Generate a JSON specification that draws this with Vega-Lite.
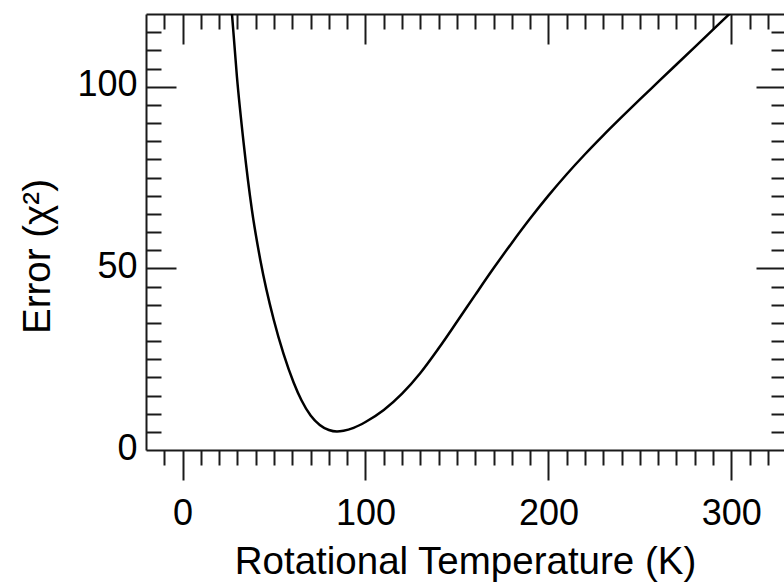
{
  "$schema": "https://vega.github.io/schema/vega-lite/v6.json",
  "autosize": "none",
  "width": 638,
  "height": 436,
  "padding": {"left": 146, "top": 14, "right": 0, "bottom": 133},
  "background": "white",
  "config": {
    "view": {"stroke": null},
    "axis": {
      "grid": false,
      "labelFont": "Liberation Sans",
      "titleFont": "Liberation Sans",
      "labelColor": "#000000",
      "titleColor": "#000000",
      "titleFontWeight": "normal",
      "tickColor": "#1a1a1a",
      "domainColor": "#1a1a1a",
      "tickWidth": 2,
      "domainWidth": 2,
      "labelFlush": false,
      "labelOverlap": false
    }
  },
  "datasets": {
    "curve": [
      {"T": 27.0, "E": 120.0},
      {"T": 29.7, "E": 102.8},
      {"T": 33.4, "E": 84.4},
      {"T": 37.9, "E": 66.1},
      {"T": 42.5, "E": 52.3},
      {"T": 49.8, "E": 35.9},
      {"T": 55.2, "E": 26.45},
      {"T": 60.7, "E": 18.6},
      {"T": 65.0, "E": 13.7},
      {"T": 70.0, "E": 9.5},
      {"T": 75.0, "E": 6.9},
      {"T": 80.0, "E": 5.5},
      {"T": 84.4, "E": 5.1},
      {"T": 88.0, "E": 5.3},
      {"T": 93.5, "E": 6.1},
      {"T": 100.0, "E": 7.7},
      {"T": 110.0, "E": 11.0},
      {"T": 120.0, "E": 15.5},
      {"T": 130.0, "E": 21.2},
      {"T": 140.0, "E": 28.0},
      {"T": 150.0, "E": 35.3},
      {"T": 160.0, "E": 42.7},
      {"T": 170.0, "E": 50.0},
      {"T": 180.0, "E": 57.0},
      {"T": 190.0, "E": 63.7},
      {"T": 200.0, "E": 70.0},
      {"T": 210.0, "E": 75.9},
      {"T": 220.0, "E": 81.4},
      {"T": 230.0, "E": 86.6},
      {"T": 240.0, "E": 91.6},
      {"T": 250.0, "E": 96.5},
      {"T": 260.0, "E": 101.3},
      {"T": 270.0, "E": 106.1},
      {"T": 280.0, "E": 110.9},
      {"T": 290.0, "E": 115.7},
      {"T": 300.0, "E": 120.5}
    ]
  },
  "data": {"name": "curve"},
  "layer": [
    {
      "mark": {"type": "line", "color": "#000000", "strokeWidth": 2.5, "interpolate": "monotone", "clip": true},
      "encoding": {
        "x": {
          "field": "T", "type": "quantitative",
          "scale": {"domain": [-20, 328.8], "nice": false, "zero": false},
          "axis": {
            "orient": "bottom", "values": [0, 100, 200, 300], "tickSize": 30,
            "labelFontSize": 36, "labelBaseline": "alphabetic", "labelPadding": 44,
            "domain": true,
            "title": "Rotational Temperature (K)", "titleFontSize": 38.5,
            "titleBaseline": "alphabetic", "titleY": 123, "titleAlign": "center"
          }
        },
        "y": {
          "field": "E", "type": "quantitative",
          "scale": {"domain": [0, 120], "nice": false, "zero": false},
          "axis": {
            "orient": "left", "values": [0, 50, 100], "ticks": false,
            "labelFontSize": 36, "labelPadding": 9, "labelBaseline": "middle", "labelOffset": -2,
            "domain": true,
            "title": "Error (χ²)", "titleFontSize": 38.5, "titleAngle": -90,
            "titleBaseline": "alphabetic", "titleAlign": "center", "titleX": -97, "titleY": 242
          }
        }
      }
    },
    {
      "mark": {"type": "line", "opacity": 0},
      "encoding": {
        "x": {
          "field": "T", "type": "quantitative",
          "scale": {"domain": [-20, 328.8], "nice": false, "zero": false},
          "axis": {
            "orient": "bottom", "tickSize": 15, "labels": false, "domain": false, "title": null,
            "values": [-10, 10, 20, 30, 40, 50, 60, 70, 80, 90, 110, 120, 130, 140, 150, 160, 170, 180, 190, 210, 220, 230, 240, 250, 260, 270, 280, 290, 310, 320]
          }
        },
        "y": {
          "field": "E", "type": "quantitative",
          "scale": {"domain": [0, 120], "nice": false, "zero": false},
          "axis": {"orient": "left", "values": [50, 100], "tickSize": -30, "labels": false, "domain": false, "title": null}
        }
      }
    },
    {
      "mark": {"type": "line", "opacity": 0},
      "encoding": {
        "x": {
          "field": "T", "type": "quantitative",
          "scale": {"domain": [-20, 328.8], "nice": false, "zero": false},
          "axis": {"orient": "top", "values": [0, 100, 200, 300], "tickSize": -30, "labels": false, "domain": true, "title": null}
        },
        "y": {
          "field": "E", "type": "quantitative",
          "scale": {"domain": [0, 120], "nice": false, "zero": false},
          "axis": {
            "orient": "left", "tickSize": -15, "labels": false, "domain": false, "title": null,
            "values": [5, 10, 15, 20, 25, 30, 35, 40, 45, 55, 60, 65, 70, 75, 80, 85, 90, 95, 105, 110, 115]
          }
        }
      }
    },
    {
      "mark": {"type": "line", "opacity": 0},
      "encoding": {
        "x": {
          "field": "T", "type": "quantitative",
          "scale": {"domain": [-20, 328.8], "nice": false, "zero": false},
          "axis": {
            "orient": "top", "tickSize": -15, "labels": false, "domain": false, "title": null,
            "values": [-10, 10, 20, 30, 40, 50, 60, 70, 80, 90, 110, 120, 130, 140, 150, 160, 170, 180, 190, 210, 220, 230, 240, 250, 260, 270, 280, 290, 310, 320]
          }
        },
        "y": {
          "field": "E", "type": "quantitative",
          "scale": {"domain": [0, 120], "nice": false, "zero": false},
          "axis": {"orient": "right", "values": [50, 100], "tickSize": -28, "labels": false, "domain": false, "title": null}
        }
      }
    },
    {
      "mark": {"type": "line", "opacity": 0},
      "encoding": {
        "x": {
          "field": "T", "type": "quantitative",
          "scale": {"domain": [-20, 328.8], "nice": false, "zero": false},
          "axis": null
        },
        "y": {
          "field": "E", "type": "quantitative",
          "scale": {"domain": [0, 120], "nice": false, "zero": false},
          "axis": {
            "orient": "right", "tickSize": -13, "labels": false, "domain": false, "title": null,
            "values": [5, 10, 15, 20, 25, 30, 35, 40, 45, 55, 60, 65, 70, 75, 80, 85, 90, 95, 105, 110, 115]
          }
        }
      }
    }
  ]
}
